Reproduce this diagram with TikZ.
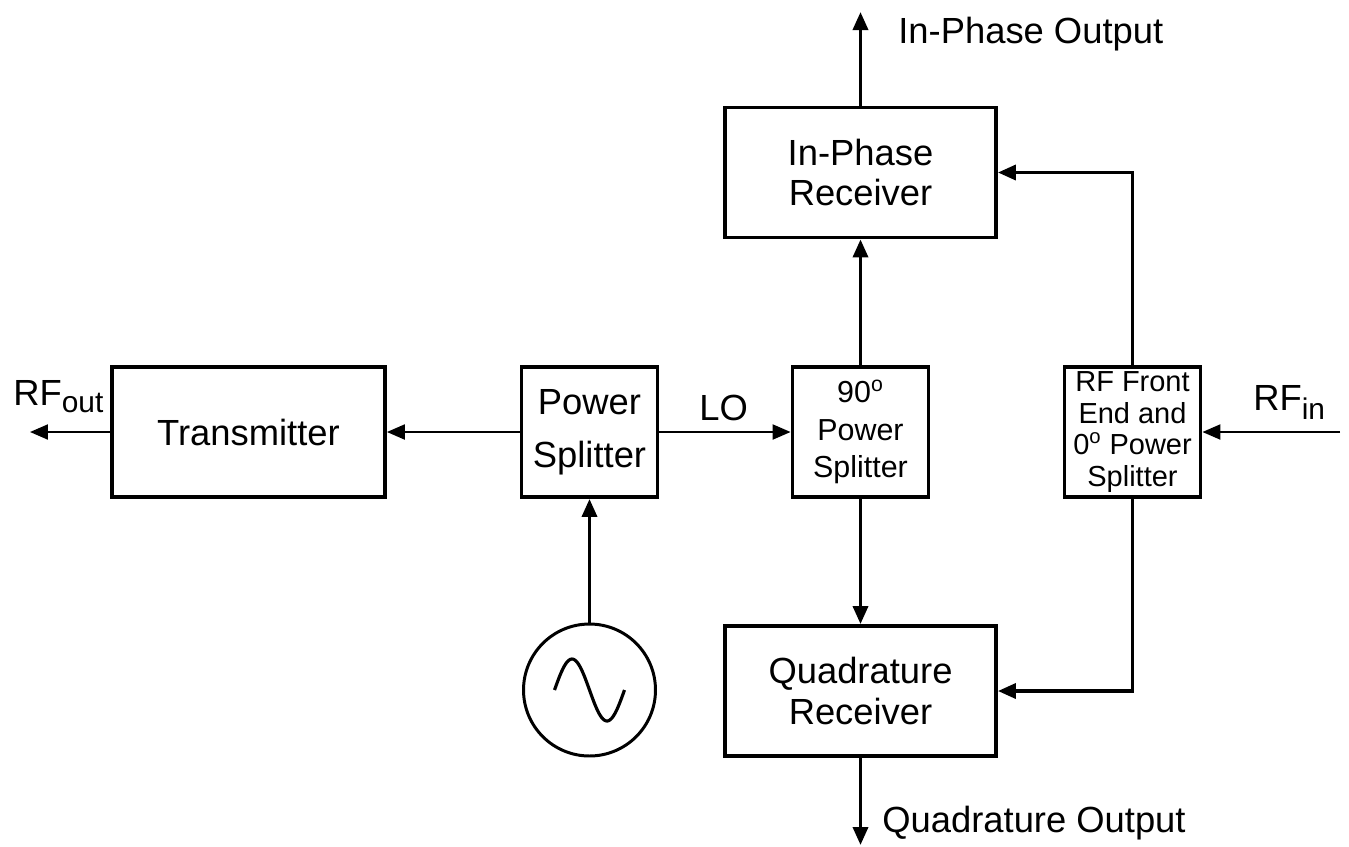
\documentclass[tikz,border=0pt]{standalone}
\usepackage{fontspec}
\setmainfont{Liberation Sans}
\usetikzlibrary{arrows.meta}
\tikzset{
  blk/.style={draw,line width=2.2pt,align=center,inner sep=1pt,
    font=\fontsize{20.7}{23}\selectfont},
  small/.style={font=\fontsize{17.3}{21.3}\selectfont},
  tiny/.style={font=\fontsize{16.5}{18}\selectfont},
  rx/.style={minimum width=5.42cm,minimum height=2.6cm},
  sq/.style={minimum width=2.72cm,minimum height=2.6cm},
  osc/.style={draw,circle,line width=1.7pt,minimum size=2.64cm,inner sep=0pt},
  ar/.style={-{Triangle[length=3.6mm,width=3mm]},line width=1.2pt},
  thk/.style={line width=2pt},
  lbl/.style={font=\fontsize{20.7}{23}\selectfont,inner sep=0pt},
}

\begin{document}
\begin{tikzpicture}[x=0.02cm,y=-0.02cm]
  \useasboundingbox (0,0) rectangle (1349,846);
  % blocks
  \node[blk,minimum width=5.46cm,minimum height=2.6cm] (tx) at (248.5,432) {Transmitter};
  \node[blk,sq,font=\fontsize{20.7}{30}\selectfont] (ps) at (589.5,432) {Power\\Splitter};
  \node[blk,sq,small] (qs) at (860.5,432) {90\textsuperscript{o}\\Power\\Splitter};
  \node[blk,sq,tiny] (fe) at (1132.5,432) {RF Front\\End and\\0\textsuperscript{o} Power\\Splitter};
  \node[blk,rx] (irx) at (860.5,172.5) {In-Phase\\Receiver};
  \node[blk,rx] (qrx) at (860.5,691) {Quadrature\\Receiver};
  \node[osc] (lo) at (589.5,690) {};
  \draw[line width=1.8pt,shift={(lo.center)}]
    plot[domain=0:360,samples=50,smooth,variable=\t] ({\t/360*70-35},{-31*sin(\t)});
  % free ends
  \coordinate (rfout) at (30,432);
  \coordinate (rfin) at (1340,432);
  \coordinate (iout) at (860.5,12);
  \coordinate (qout) at (860.5,845);
  % labels
  \node[lbl,anchor=base west] (rfoutlbl) at (13,405)
    {RF\raisebox{-4pt}{\fontsize{17}{17}\selectfont out}};
  \node[lbl,anchor=base west] (rfinlbl) at (1253,410)
    {RF\raisebox{-5.5pt}{\fontsize{17}{17}\selectfont in}};
  \node[lbl,anchor=base west] (lolbl) at (699,420) {LO};
  \node[lbl,anchor=base west] (ioutlbl) at (898,43) {In-Phase Output};
  \node[lbl,anchor=base west] (qoutlbl) at (882,832) {Quadrature Output};
  % connectors
  \draw[ar] (tx) -- (rfout);
  \draw[ar] (ps) -- (tx);
  \draw[ar] (ps) -- (qs);
  \draw[ar,thk] (lo) -- (ps);
  \draw[ar,thk] (qs) -- (irx);
  \draw[ar,thk] (qs) -- (qrx);
  \draw[ar,thk] (irx) -- (iout);
  \draw[ar,thk] (qrx) -- (qout);
  \draw[ar] (rfin) -- (fe);
  \draw[ar,thk] (fe.north) |- (irx.east);
  \draw[ar,thk] (fe.south) |- (qrx.east);
\end{tikzpicture}
\end{document}
